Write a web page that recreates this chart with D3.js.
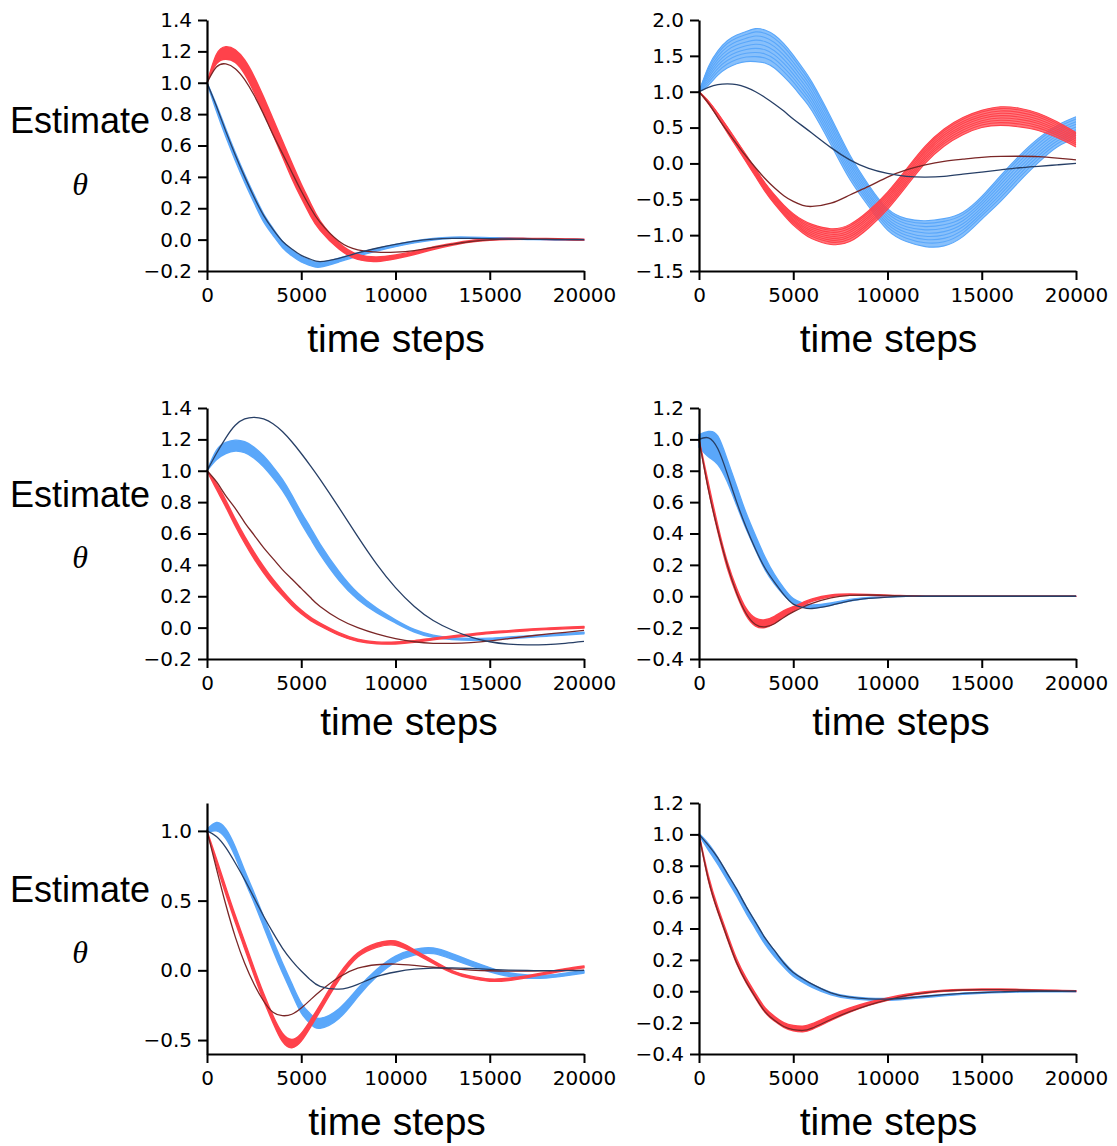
<!DOCTYPE html>
<html>
<head>
<meta charset="utf-8">
<script src="https://cdn.jsdelivr.net/npm/d3@7"></script>
<style>
  html, body { margin: 0; padding: 0; background: #fff; }
  svg { display: block; }
</style>
</head>
<body>
<svg id="chart" width="1117" height="1146"></svg>
<script>
// ---------------- DATA ----------------
const timeSteps = [0, 500, 1000, 1500, 2000, 2500, 3000, 3500, 4000, 4500, 5000, 5500, 6000,
  7000, 8000, 9000, 10000, 11000, 12000, 13000, 14000, 15000, 16000, 17000, 18000, 19000, 20000];
const xTickValues = [0, 5000, 10000, 15000, 20000];

// Panel 1 (top left)
const p1RedMid     = [1.0, 1.15, 1.19, 1.17, 1.10, 0.99, 0.86, 0.72, 0.58, 0.44, 0.31, 0.19, 0.09, -0.04, -0.11, -0.125, -0.11, -0.085, -0.055, -0.03, -0.01, 0.0, 0.005, 0.005, 0.004, 0.002, 0.0];
const p1RedSpread  = [0, 0.03, 0.04, 0.04, 0.045, 0.05, 0.05, 0.05, 0.05, 0.05, 0.045, 0.04, 0.03, 0.02, 0.016, 0.014, 0.012, 0.01, 0.008, 0.006, 0.005, 0.004, 0.004, 0.003, 0.003, 0.003, 0.003];
const p1BlueMid    = [1.0, 0.84, 0.68, 0.53, 0.39, 0.26, 0.14, 0.05, -0.03, -0.085, -0.125, -0.15, -0.16, -0.13, -0.095, -0.065, -0.038, -0.015, 0.003, 0.012, 0.012, 0.01, 0.007, 0.004, 0.002, 0.0, -0.002];
const p1BlueSpread = [0, 0.02, 0.025, 0.025, 0.025, 0.025, 0.025, 0.022, 0.02, 0.018, 0.017, 0.016, 0.015, 0.012, 0.01, 0.008, 0.007, 0.006, 0.005, 0.004, 0.004, 0.003, 0.003, 0.003, 0.003, 0.003, 0.003];
const p1DarkRed    = [1.0, 1.10, 1.12, 1.09, 1.02, 0.92, 0.80, 0.67, 0.55, 0.43, 0.31, 0.20, 0.11, -0.01, -0.065, -0.08, -0.08, -0.07, -0.05, -0.03, -0.012, -0.002, 0.003, 0.004, 0.003, 0.002, 0.0];
const p1DarkBlue   = [1.0, 0.85, 0.69, 0.54, 0.40, 0.27, 0.155, 0.065, -0.01, -0.06, -0.10, -0.125, -0.14, -0.12, -0.085, -0.055, -0.03, -0.01, 0.003, 0.008, 0.008, 0.006, 0.004, 0.002, 0.001, 0.0, 0.0];

// Panel 2 (top right)
const p2RedMid     = [1.0, 0.85, 0.67, 0.47, 0.27, 0.07, -0.13, -0.33, -0.5, -0.65, -0.78, -0.88, -0.95, -1.02, -0.97, -0.78, -0.52, -0.2, 0.12, 0.36, 0.52, 0.62, 0.66, 0.64, 0.58, 0.47, 0.33];
const p2RedSpread  = [0, 0.02, 0.03, 0.04, 0.045, 0.05, 0.055, 0.06, 0.065, 0.07, 0.08, 0.09, 0.1, 0.11, 0.12, 0.12, 0.12, 0.12, 0.12, 0.12, 0.12, 0.12, 0.13, 0.13, 0.12, 0.11, 0.1];
const p2BlueMid    = [1.0, 1.22, 1.40, 1.52, 1.59, 1.63, 1.65, 1.63, 1.56, 1.44, 1.29, 1.12, 0.93, 0.45, -0.05, -0.45, -0.78, -0.93, -0.98, -0.96, -0.85, -0.62, -0.35, -0.07, 0.18, 0.38, 0.5];
const p2BlueSpread = [0, 0.13, 0.17, 0.19, 0.2, 0.21, 0.23, 0.23, 0.23, 0.23, 0.22, 0.21, 0.2, 0.19, 0.17, 0.15, 0.15, 0.16, 0.18, 0.19, 0.17, 0.16, 0.18, 0.18, 0.17, 0.15, 0.15];
const p2DarkRed    = [1.0, 0.84, 0.64, 0.45, 0.27, 0.1, -0.06, -0.21, -0.34, -0.45, -0.53, -0.585, -0.6, -0.555, -0.44, -0.32, -0.19, -0.09, -0.02, 0.03, 0.06, 0.085, 0.098, 0.1, 0.095, 0.075, 0.05];
const p2DarkBlue   = [1.0, 1.06, 1.1, 1.11, 1.1, 1.06, 1.0, 0.92, 0.83, 0.73, 0.62, 0.52, 0.42, 0.22, 0.05, -0.07, -0.14, -0.18, -0.19, -0.18, -0.15, -0.12, -0.09, -0.06, -0.04, -0.02, 0.0];

// Panel 3 (middle left)
const p3RedMid     = [1.0, 0.9, 0.79, 0.67, 0.56, 0.46, 0.37, 0.29, 0.22, 0.155, 0.1, 0.055, 0.02, -0.04, -0.08, -0.097, -0.098, -0.088, -0.072, -0.058, -0.045, -0.033, -0.024, -0.015, -0.008, -0.002, 0.003];
const p3RedSpread  = [0, 0.018, 0.022, 0.022, 0.022, 0.022, 0.02, 0.018, 0.016, 0.014, 0.012, 0.01, 0.009, 0.008, 0.007, 0.006, 0.006, 0.005, 0.005, 0.005, 0.005, 0.005, 0.005, 0.005, 0.005, 0.005, 0.005];
const p3BlueMid    = [1.0, 1.1, 1.145, 1.16, 1.15, 1.115, 1.06, 0.99, 0.91, 0.81, 0.7, 0.6, 0.5, 0.33, 0.2, 0.11, 0.04, -0.02, -0.055, -0.07, -0.075, -0.072, -0.065, -0.058, -0.05, -0.042, -0.034];
const p3BlueSpread = [0, 0.03, 0.035, 0.035, 0.035, 0.035, 0.035, 0.035, 0.035, 0.035, 0.035, 0.035, 0.033, 0.028, 0.02, 0.014, 0.01, 0.008, 0.007, 0.006, 0.006, 0.005, 0.005, 0.005, 0.005, 0.005, 0.005];
const p3DarkRed    = [1.0, 0.93, 0.84, 0.76, 0.67, 0.59, 0.51, 0.44, 0.37, 0.31, 0.25, 0.19, 0.135, 0.055, 0.0, -0.04, -0.07, -0.09, -0.1, -0.1, -0.095, -0.085, -0.07, -0.055, -0.042, -0.03, -0.017];
const p3DarkBlue   = [1.0, 1.11, 1.21, 1.29, 1.33, 1.34, 1.33, 1.3, 1.25, 1.185, 1.11, 1.03, 0.945, 0.765, 0.58, 0.405, 0.255, 0.135, 0.045, -0.015, -0.06, -0.09, -0.105, -0.11, -0.108, -0.1, -0.088];

// Panel 4 (middle right)
const p4RedMid     = [1.0, 0.7, 0.43, 0.2, 0.03, -0.1, -0.165, -0.175, -0.15, -0.11, -0.08, -0.05, -0.025, 0.003, 0.01, 0.009, 0.005, 0.002, 0.0, 0, 0, 0, 0, 0, 0, 0, 0];
const p4RedSpread  = [0, 0.02, 0.02, 0.02, 0.02, 0.022, 0.025, 0.025, 0.022, 0.018, 0.014, 0.01, 0.008, 0.005, 0.004, 0.003, 0.002, 0.002, 0.001, 0.001, 0.001, 0.001, 0.001, 0.001, 0.001, 0.001, 0.001];
const p4BlueMid    = [0.99, 0.97, 0.93, 0.8, 0.64, 0.48, 0.34, 0.21, 0.11, 0.03, -0.03, -0.055, -0.065, -0.05, -0.025, -0.01, -0.003, 0.0, 0, 0, 0, 0, 0, 0, 0, 0, 0];
const p4BlueSpread = [0.04, 0.08, 0.09, 0.07, 0.06, 0.05, 0.045, 0.04, 0.03, 0.022, 0.015, 0.012, 0.01, 0.007, 0.005, 0.003, 0.002, 0.001, 0.001, 0.001, 0.001, 0.001, 0.001, 0.001, 0.001, 0.001, 0.001];
const p4DarkRed    = [1.0, 0.68, 0.42, 0.2, 0.02, -0.11, -0.18, -0.195, -0.175, -0.135, -0.1, -0.07, -0.045, -0.01, 0.005, 0.008, 0.005, 0.002, 0.0, 0, 0, 0, 0, 0, 0, 0, 0];
const p4DarkBlue   = [1.0, 1.01, 0.94, 0.78, 0.6, 0.44, 0.3, 0.18, 0.09, 0.01, -0.05, -0.072, -0.078, -0.058, -0.03, -0.014, -0.005, 0.0, 0, 0, 0, 0, 0, 0, 0, 0, 0];

// Panel 5 (bottom left)
const p5RedMid     = [1.0, 0.78, 0.57, 0.37, 0.18, -0.01, -0.19, -0.35, -0.48, -0.525, -0.48, -0.38, -0.27, -0.05, 0.11, 0.18, 0.195, 0.135, 0.06, -0.01, -0.05, -0.07, -0.065, -0.045, -0.02, 0.005, 0.025];
const p5RedSpread  = [0, 0.02, 0.025, 0.025, 0.025, 0.025, 0.025, 0.025, 0.03, 0.03, 0.028, 0.025, 0.022, 0.02, 0.015, 0.015, 0.015, 0.012, 0.01, 0.008, 0.008, 0.008, 0.008, 0.007, 0.006, 0.006, 0.006];
const p5BlueMid    = [1.0, 1.03, 0.98, 0.85, 0.68, 0.52, 0.35, 0.18, 0.02, -0.13, -0.27, -0.35, -0.38, -0.31, -0.16, -0.02, 0.08, 0.13, 0.14, 0.1, 0.05, 0.005, -0.03, -0.045, -0.045, -0.03, -0.01];
const p5BlueSpread = [0.01, 0.03, 0.035, 0.035, 0.035, 0.035, 0.035, 0.035, 0.035, 0.035, 0.035, 0.035, 0.035, 0.035, 0.03, 0.025, 0.022, 0.02, 0.02, 0.02, 0.018, 0.015, 0.013, 0.012, 0.01, 0.01, 0.01];
const p5DarkRed    = [1.0, 0.73, 0.47, 0.24, 0.05, -0.1, -0.22, -0.3, -0.325, -0.315, -0.27, -0.21, -0.15, -0.05, 0.015, 0.04, 0.045, 0.035, 0.022, 0.01, 0.002, -0.003, -0.005, -0.005, -0.003, -0.001, 0.0];
const p5DarkBlue   = [1.0, 0.96, 0.88, 0.77, 0.65, 0.52, 0.39, 0.27, 0.16, 0.07, -0.005, -0.07, -0.115, -0.135, -0.1, -0.045, -0.012, 0.008, 0.016, 0.017, 0.013, 0.007, 0.002, -0.001, -0.002, -0.002, -0.001];

// Panel 6 (bottom right)
const p6RedMid     = [1.0, 0.72, 0.52, 0.35, 0.19, 0.07, -0.03, -0.12, -0.175, -0.215, -0.235, -0.24, -0.225, -0.17, -0.12, -0.08, -0.05, -0.025, -0.008, 0.003, 0.009, 0.011, 0.011, 0.009, 0.006, 0.003, 0.001];
const p6RedSpread  = [0, 0.015, 0.015, 0.015, 0.015, 0.015, 0.015, 0.015, 0.015, 0.015, 0.017, 0.018, 0.018, 0.016, 0.013, 0.01, 0.008, 0.006, 0.005, 0.004, 0.003, 0.003, 0.003, 0.003, 0.003, 0.003, 0.003];
const p6BlueMid    = [1.0, 0.92, 0.83, 0.73, 0.63, 0.52, 0.42, 0.32, 0.24, 0.17, 0.11, 0.07, 0.035, -0.015, -0.04, -0.05, -0.052, -0.045, -0.035, -0.025, -0.016, -0.01, -0.005, -0.002, 0, 0, 0];
const p6BlueSpread = [0.005, 0.02, 0.022, 0.022, 0.022, 0.022, 0.022, 0.02, 0.018, 0.016, 0.014, 0.012, 0.01, 0.008, 0.007, 0.006, 0.006, 0.005, 0.005, 0.004, 0.004, 0.003, 0.003, 0.003, 0.003, 0.003, 0.003];
const p6DarkRed    = [1.0, 0.71, 0.51, 0.34, 0.18, 0.06, -0.04, -0.13, -0.185, -0.225, -0.245, -0.25, -0.235, -0.18, -0.13, -0.088, -0.055, -0.028, -0.01, 0.002, 0.008, 0.01, 0.01, 0.008, 0.005, 0.002, 0.0];
const p6DarkBlue   = [1.0, 0.93, 0.85, 0.75, 0.65, 0.54, 0.44, 0.34, 0.26, 0.18, 0.12, 0.08, 0.045, -0.01, -0.038, -0.048, -0.05, -0.043, -0.032, -0.022, -0.014, -0.008, -0.004, -0.001, 0.0, 0.0, 0.0];

// Axis domains and tick labels
const yDomain1 = [-0.2, 1.4], yTicks1 = [-0.2, 0, 0.2, 0.4, 0.6, 0.8, 1.0, 1.2, 1.4];
const yDomain2 = [-1.5, 2.0], yTicks2 = [-1.5, -1.0, -0.5, 0, 0.5, 1.0, 1.5, 2.0];
const yDomain3 = [-0.2, 1.4], yTicks3 = [-0.2, 0, 0.2, 0.4, 0.6, 0.8, 1.0, 1.2, 1.4];
const yDomain4 = [-0.4, 1.2], yTicks4 = [-0.4, -0.2, 0, 0.2, 0.4, 0.6, 0.8, 1.0, 1.2];
const yDomain5 = [-0.6, 1.2], yTicks5 = [-0.5, 0, 0.5, 1.0];
const yDomain6 = [-0.4, 1.2], yTicks6 = [-0.4, -0.2, 0, 0.2, 0.4, 0.6, 0.8, 1.0, 1.2];

const xLabelText = "time steps";
const yLabelText = "Estimate";
const yLabelSymbol = "θ";

// ---------------- LAYOUT / STYLE ----------------
const colors = { red: "#ff424b", blue: "#5aa7fa", darkRed: "#7a2626", darkBlue: "#273f66" };
const colX = [207, 699], plotW = 377;
const rowY = [20, 408, 803], plotH = 251;
const xLabelCenters = [[396, 888.5], [409, 901], [397, 888.5]];
const xLabelBase = [352, 735, 1135];
const estBase = [133, 507, 902];
const thetaBase = [195, 568, 963];

const panels = [
  { r: 0, c: 0, dom: yDomain1, ticks: yTicks1, red: p1RedMid, redS: p1RedSpread, blue: p1BlueMid, blueS: p1BlueSpread, dr: p1DarkRed, db: p1DarkBlue, sparse: false },
  { r: 0, c: 1, dom: yDomain2, ticks: yTicks2, red: p2RedMid, redS: p2RedSpread, blue: p2BlueMid, blueS: p2BlueSpread, dr: p2DarkRed, db: p2DarkBlue, sparse: true },
  { r: 1, c: 0, dom: yDomain3, ticks: yTicks3, red: p3RedMid, redS: p3RedSpread, blue: p3BlueMid, blueS: p3BlueSpread, dr: p3DarkRed, db: p3DarkBlue, sparse: false },
  { r: 1, c: 1, dom: yDomain4, ticks: yTicks4, red: p4RedMid, redS: p4RedSpread, blue: p4BlueMid, blueS: p4BlueSpread, dr: p4DarkRed, db: p4DarkBlue, sparse: false },
  { r: 2, c: 0, dom: yDomain5, ticks: yTicks5, red: p5RedMid, redS: p5RedSpread, blue: p5BlueMid, blueS: p5BlueSpread, dr: p5DarkRed, db: p5DarkBlue, sparse: false },
  { r: 2, c: 1, dom: yDomain6, ticks: yTicks6, red: p6RedMid, redS: p6RedSpread, blue: p6BlueMid, blueS: p6BlueSpread, dr: p6DarkRed, db: p6DarkBlue, sparse: false },
];

const svg = d3.select("#chart");
const fmtY = d => (d < 0 ? "\u2212" : "") + Math.abs(d).toFixed(1);
const curve = d3.curveNatural;
const strandPositions = [-1, -0.7, -0.45, -0.2, 0.05, 0.3, 0.55, 0.8, 1];

panels.forEach(p => {
  const x0 = colX[p.c], y0 = rowY[p.r];
  const x = d3.scaleLinear().domain([0, 20000]).range([x0, x0 + plotW]);
  const y = d3.scaleLinear().domain(p.dom).range([y0 + plotH, y0]);
  const g = svg.append("g");

  const band = (mid, spr, color) => {
    const pts = timeSteps.map((t, i) => ({ t, lo: mid[i] - spr[i], hi: mid[i] + spr[i] }));
    const area = d3.area().x(d => x(d.t)).y0(d => y(d.lo)).y1(d => y(d.hi)).curve(curve);
    if (!p.sparse) {
      g.append("path").attr("d", area(pts)).attr("fill", color)
        .attr("stroke", color).attr("stroke-width", 1.4).attr("stroke-linejoin", "round");
    } else {
      g.append("path").attr("d", area(pts)).attr("fill", color).attr("fill-opacity", 0.72);
      strandPositions.forEach(k => {
        const ln = d3.line().x((d, i) => x(timeSteps[i])).y((d, i) => y(mid[i] + k * spr[i])).curve(curve);
        g.append("path").attr("d", ln(mid)).attr("fill", "none")
          .attr("stroke", color).attr("stroke-width", 1.1);
      });
    }
  };
  const line = (vals, color) => {
    const ln = d3.line().x((d, i) => x(timeSteps[i])).y(d => y(d)).curve(curve);
    g.append("path").attr("d", ln(vals)).attr("fill", "none")
      .attr("stroke", color).attr("stroke-width", 1.3);
  };

  band(p.blue, p.blueS, colors.blue);
  band(p.red, p.redS, colors.red);
  line(p.dr, colors.darkRed);
  line(p.db, colors.darkBlue);

  // axes
  const yAxis = d3.axisLeft(y).tickValues(p.ticks).tickFormat(fmtY).tickSize(9).tickSizeOuter(0).tickPadding(6);
  const xAxis = d3.axisBottom(x).tickValues(xTickValues).tickFormat(d3.format("d")).tickSize(9).tickSizeOuter(0).tickPadding(8);
  const ya = g.append("g").attr("transform", `translate(${x0},0)`).call(yAxis);
  const xa = g.append("g").attr("transform", `translate(0,${y0 + plotH})`).call(xAxis);
  [ya, xa].forEach(a => {
    a.select(".domain").attr("stroke", "#000").attr("stroke-width", 2.2);
    a.selectAll(".tick line").attr("stroke", "#000").attr("stroke-width", 2);
    a.selectAll(".tick text").attr("fill", "#000")
      .style("font-family", "'DejaVu Sans', sans-serif").style("font-size", "20px");
  });

  // x label
  svg.append("text").attr("x", xLabelCenters[p.r][p.c]).attr("y", xLabelBase[p.r])
    .attr("text-anchor", "middle")
    .style("font-family", "'Liberation Sans', Arial, sans-serif").style("font-size", "39px")
    .text(xLabelText);

  if (p.c === 0) {
    svg.append("text").attr("x", 10).attr("y", estBase[p.r])
      .style("font-family", "'Liberation Sans', Arial, sans-serif").style("font-size", "36px")
      .text(yLabelText);
    svg.append("text").attr("x", 80).attr("y", thetaBase[p.r]).attr("text-anchor", "middle")
      .style("font-family", "'Liberation Serif', 'Times New Roman', serif").style("font-style", "italic")
      .style("font-size", "32px")
      .text(yLabelSymbol);
  }
});
</script>
</body>
</html>
